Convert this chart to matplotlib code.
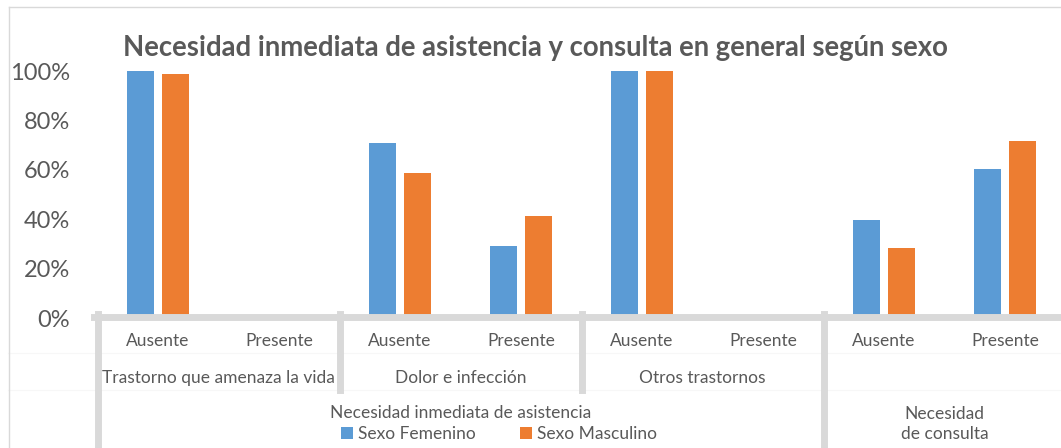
import matplotlib
matplotlib.use("Agg")
import matplotlib.pyplot as plt
from matplotlib.lines import Line2D
from matplotlib.transforms import blended_transform_factory
import numpy as np

plt.rcParams['font.family'] = ['Lato', 'DejaVu Sans']

# data
sub_labels = ['Ausente', 'Presente'] * 4
group_labels = ['Trastorno que amenaza la vida', 'Dolor e infección', 'Otros trastornos']
top_labels = ['Necesidad inmediata de asistencia', 'Necesidad\nde consulta']
femenino = [1.000, 0.000, 0.707, 0.293, 1.000, 0.000, 0.395, 0.605]
masculino = [0.988, 0.012, 0.588, 0.412, 1.000, 0.000, 0.282, 0.718]
yticks = [0, 0.2, 0.4, 0.6, 0.8, 1.0]

W, H = 1061, 448
TXT = '#595959'
LINE = '#D9D9D9'
FS = 12.5

fig = plt.figure(figsize=(W / 100, H / 100), dpi=100)
ax = fig.add_axes([97.5 / W, 1 - 318 / H, 968 / W, 247 / H])

x = np.arange(len(sub_labels))
ax.bar(x - 0.145, femenino, 0.223, color='#5B9BD5', label='Sexo Femenino', zorder=2)
ax.bar(x + 0.145, masculino, 0.223, color='#ED7D31', label='Sexo Masculino', zorder=2)

ax.set_xlim(-0.5, len(sub_labels) - 0.5)
ax.set_ylim(0, 1)
ax.set_yticks(yticks)
ax.set_yticklabels([f'{int(round(v * 100))}%' for v in yticks], fontsize=17, color=TXT)
ax.tick_params(axis='y', length=0, pad=20)
ax.set_xticks([])
for s in ax.spines.values():
    s.set_visible(False)

tr = blended_transform_factory(ax.transData, ax.transAxes)

def ay(py):
    # pixel row -> axes fraction
    return (318 - py) / 247

# category axis lines
ax.add_line(Line2D([-0.5 - 0.03, 8.0], [ay(317)] * 2, transform=tr, color=LINE, lw=5, clip_on=False, zorder=5))
for b in [-0.5, 5.5, 7.5]:
    ax.add_line(Line2D([b, b], [ay(314), ay(460)], transform=tr, color=LINE, lw=5, clip_on=False, zorder=5))
for b in [1.5, 3.5]:
    ax.add_line(Line2D([b, b], [ay(314), ay(390)], transform=tr, color=LINE, lw=5, clip_on=False, zorder=5))
for py in [353, 390]:
    fig.add_artist(Line2D([8 / W, 1], [1 - py / H] * 2, color='#F7F7F7', lw=0.8, zorder=0))

# labels
for i, lab in enumerate(sub_labels):
    ax.text(i, ay(341), lab, transform=tr, ha='center', va='center', fontsize=FS, color=TXT)
for g, lab in enumerate(group_labels):
    ax.text(2 * g + 0.5, ay(378), lab, transform=tr, ha='center', va='center', fontsize=FS, color=TXT)
ax.text(2.5, ay(413), top_labels[0], transform=tr, ha='center', va='center', fontsize=FS, color=TXT)
ax.text(6.5, ay(424), top_labels[1], transform=tr, ha='center', va='center', fontsize=FS,
        color=TXT, linespacing=1.3)

# outer border
fig.add_artist(Line2D([8.5 / W, 8.5 / W], [1 - 7.5 / H, 0], color=LINE, lw=1))
fig.add_artist(Line2D([8.5 / W, 1], [1 - 7.5 / H] * 2, color=LINE, lw=1))

fig.text(535 / W, 1 - 56 / H, 'Necesidad inmediata de asistencia y consulta en general según sexo',
         ha='center', va='baseline', fontsize=19.8, fontweight='bold', color=TXT)

fig.legend(loc='center', bbox_to_anchor=(499 / W, 1 - 434 / H), ncol=2, frameon=False,
           fontsize=FS, labelcolor=TXT, handlelength=0.7, handleheight=0.7,
           handletextpad=0.3, columnspacing=2.5, borderpad=0)

fig.savefig('out.png', dpi=100)
